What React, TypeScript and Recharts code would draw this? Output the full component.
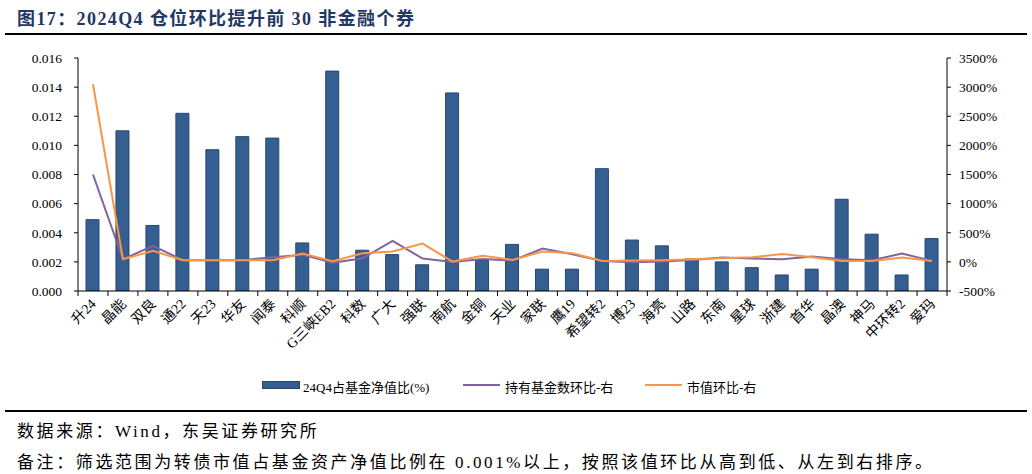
import React from 'react';
import { ComposedChart, Bar, Line, XAxis, YAxis } from 'recharts';

const categories = ['升24', '晶能', '双良', '通22', '天23', '华友', '闻泰', '科顺', 'G三峡EB2', '科数', '广大', '强联', '南航', '金铜', '天业', '家联', '鹰19', '希望转2', '博23', '海亮', '山路', '东南', '星球', '浙建', '首华', '晶澳', '神马', '中环转2', '爱玛'];
const navShare = [0.0049, 0.011, 0.0045, 0.0122, 0.0097, 0.0106, 0.0105, 0.0033, 0.0151, 0.0028, 0.0025, 0.0018, 0.0136, 0.0021, 0.0032, 0.0015, 0.0015, 0.0084, 0.0035, 0.0031, 0.0022, 0.002, 0.0016, 0.0011, 0.0015, 0.0063, 0.0039, 0.0011, 0.0036];
const fundCountQoQ = [1500, 45, 275, 30, 30, 30, 80, 120, -15, 63, 360, 57, 0, 51, 22, 229, 132, 17, -5, 6, 34, 74, 57, 46, 91, 46, 29, 143, 17];
const marketValueQoQ = [3050, 45, 190, 30, 30, 30, 30, 143, 12, 149, 177, 314, 5, 103, 34, 177, 149, 17, 22, 29, 46, 63, 80, 137, 80, 17, 17, 74, 17];
const leftTicks = [0, 0.002, 0.004, 0.006, 0.008, 0.01, 0.012, 0.014, 0.016];
const rightTicks = [-500, 0, 500, 1000, 1500, 2000, 2500, 3000, 3500];

const data = categories.map((name, i) => ({
  name,
  share: navShare[i],
  fund: fundCountQoQ[i],
  mv: marketValueQoQ[i],
}));

const FONT = '"Liberation Serif", "Noto Sans CJK SC", serif';
const PLOT_W = 869;

const XTick = (props: any) => {
  const { x, y, payload, index } = props;
  const bw = PLOT_W / categories.length;
  return (
    <g>
      <line x1={x - bw / 2} y1={y} x2={x - bw / 2} y2={y + 5} stroke="#000" strokeWidth={1} />
      {index === categories.length - 1 && (
        <line x1={x + bw / 2} y1={y} x2={x + bw / 2} y2={y + 5} stroke="#000" strokeWidth={1} />
      )}
      <text
        x={0}
        y={0}
        dy={4}
        textAnchor="end"
        fontSize={14}
        fill="#000"
        fontFamily={FONT}
        transform={`translate(${x + 1},${y + 11}) rotate(-45)`}
      >
        {payload.value}
      </text>
    </g>
  );
};

const LegendRow = () => (
  <div style={{ position: 'absolute', top: 377, left: 0, width: 1032, height: 16, fontFamily: FONT, fontSize: 13, color: '#000', whiteSpace: 'nowrap' }}>
    <div style={{ position: 'absolute', left: 262, top: 4, width: 38, height: 8, background: '#365F91', border: '1px solid #254672', boxSizing: 'border-box' }} />
    <div style={{ position: 'absolute', left: 303, top: 0 }}>24Q4占基金净值比(%)</div>
    <div style={{ position: 'absolute', left: 463, top: 7, width: 37, height: 2, background: '#8064A2' }} />
    <div style={{ position: 'absolute', left: 505, top: 0 }}>持有基金数环比-右</div>
    <div style={{ position: 'absolute', left: 645, top: 7, width: 37, height: 2, background: '#F79646' }} />
    <div style={{ position: 'absolute', left: 687, top: 0 }}>市值环比-右</div>
  </div>
);

export default function App() {
  return (
    <div style={{ position: 'absolute', left: 0, top: 0, width: 1032, height: 474, background: '#fff', overflow: 'hidden', fontFamily: FONT }}>
      <div style={{ position: 'absolute', left: 17, top: 4, fontSize: 18, letterSpacing: 1.4, fontWeight: 'bold', color: '#1F3864', fontFamily: FONT, whiteSpace: 'nowrap' }}>
        图17：2024Q4 仓位环比提升前 30 非金融个券
      </div>
      <div style={{ position: 'absolute', left: 5, top: 33, width: 1022, height: 2, background: '#000' }} />
      <div style={{ position: 'absolute', left: 0, top: 0 }}>
        <ComposedChart
          width={1032}
          height={400}
          data={data}
          margin={{ top: 58, right: 15, bottom: 49, left: 18 }}
          barSize={13}
        >
          <XAxis
            dataKey="name"
            xAxisId="x"
            interval={0}
            tickSize={0}
            tickMargin={0}
            tickLine={false}
            height={60}
            tick={<XTick />}
            stroke="#000"
          />
          <YAxis
            yAxisId="left"
            domain={[0, 0.016]}
            ticks={leftTicks}
            tickFormatter={(v: number) => v.toFixed(3)}
            width={60}
            tickSize={4}
            tickMargin={12}
            stroke="#000"
            tick={{ fill: '#000', fontSize: 13.5, fontFamily: FONT }}
            allowDataOverflow
          />
          <YAxis
            yAxisId="right"
            orientation="right"
            domain={[-500, 3500]}
            ticks={rightTicks}
            tickFormatter={(v: number) => `${v}%`}
            width={70}
            tickSize={4}
            tickMargin={8}
            stroke="#000"
            tick={{ fill: '#000', fontSize: 13.5, fontFamily: FONT }}
            allowDataOverflow
          />
          <Bar
            xAxisId="x"
            yAxisId="left"
            dataKey="share"
            fill="#365F91"
            stroke="#254672"
            strokeWidth={1}
            isAnimationActive={false}
          />
          <Line
            xAxisId="x"
            yAxisId="right"
            dataKey="fund"
            stroke="#8064A2"
            strokeWidth={2}
            dot={false}
            type="linear"
            isAnimationActive={false}
          />
          <Line
            xAxisId="x"
            yAxisId="right"
            dataKey="mv"
            stroke="#F79646"
            strokeWidth={2}
            dot={false}
            type="linear"
            isAnimationActive={false}
          />
        </ComposedChart>
      </div>
      <LegendRow />
      <div style={{ position: 'absolute', left: 5, top: 410, width: 1022, height: 2, background: '#000' }} />
      <div style={{ position: 'absolute', left: 17, top: 417, fontSize: 17, letterSpacing: 2.6, color: '#000', whiteSpace: 'nowrap' }}>
        数据来源：Wind，东吴证券研究所
      </div>
      <div style={{ position: 'absolute', left: 17, top: 448, fontSize: 17, letterSpacing: 2.6, color: '#000', whiteSpace: 'nowrap' }}>
        备注：筛选范围为转债市值占基金资产净值比例在 0.001%以上，按照该值环比从高到低、从左到右排序。
      </div>
    </div>
  );
}
